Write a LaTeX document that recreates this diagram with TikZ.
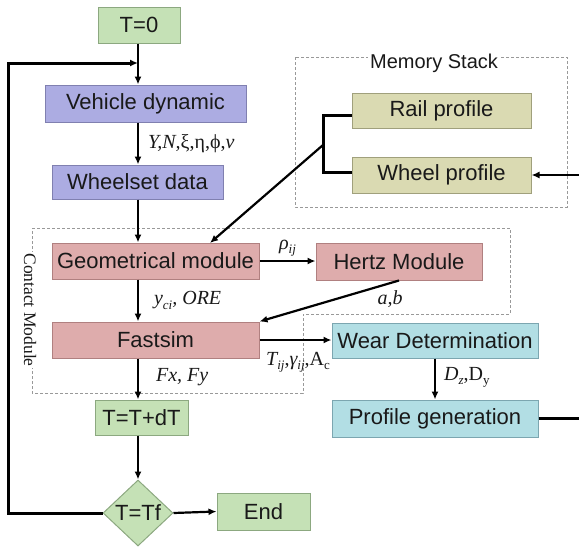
\documentclass[tikz,border=0pt]{standalone}
\usepackage{fontspec}
\setmainfont{Liberation Sans}
\newfontfamily\tms{Liberation Serif}
\usetikzlibrary{arrows.meta,shapes.geometric}

% small lowered index for the serif labels
\newcommand\lowtxt[1]{\raisebox{-0.45ex}{\fontsize{13}{13}\selectfont #1}}

\definecolor{gfill}{RGB}{197,225,182}
\definecolor{gline}{RGB}{140,168,128}
\definecolor{pfill}{RGB}{172,172,226}
\definecolor{pline}{RGB}{128,128,176}
\definecolor{ofill}{RGB}{218,218,178}
\definecolor{oline}{RGB}{160,160,124}
\definecolor{rfill}{RGB}{222,172,172}
\definecolor{rline}{RGB}{176,128,128}
\definecolor{cfill}{RGB}{178,222,228}
\definecolor{cline}{RGB}{124,166,176}
\definecolor{ink}{RGB}{25,25,25}

\begin{document}
\begin{tikzpicture}[x=1pt,y=-1pt,
  box/.style={draw, line width=1pt, rectangle, inner sep=0pt, text=ink,
              font=\fontsize{22}{24}\selectfont},
  greenbox/.style={box, fill=gfill, draw=gline},
  purplebox/.style={box, fill=pfill, draw=pline},
  olivebox/.style={box, fill=ofill, draw=oline},
  redbox/.style={box, fill=rfill, draw=rline},
  cyanbox/.style={box, fill=cfill, draw=cline},
  group/.style={draw=gray!80, line width=0.9pt, dash pattern=on 3pt off 2pt},
  arr/.style={line width=2.2pt, -{Latex[length=8pt,width=7pt]}},
  heavy/.style={line width=3pt},
  lbl/.style={inner sep=0pt, text=ink, font=\tms\fontsize{20}{22}\selectfont}
]
\useasboundingbox (0,0) rectangle (579,550);

% dashed groupings
\draw[group] (32,228) -- (510,228) -- (510,314) -- (303,314) -- (303,393) -- (32,393) -- cycle;
\draw[group] (295,57) rectangle (567,207);
\node[fill=white, inner sep=2pt, text=ink, font=\fontsize{20}{22}\selectfont] (mslabel) at (434,63) {Memory Stack};
\node[fill=white, inner sep=1pt, text=ink, font=\tms\fontsize{17.5}{19}\selectfont] (cmlabel) at (30,310) {\rotatebox{-90}{Contact Module}};

% spine of the main flow
\coordinate (spine) at (138,0);
\coordinate (loopin) at (138,63);
\coordinate (edge) at (590,300);

% blocks
\node[greenbox, minimum width=82pt, minimum height=36pt] (T0) at (139,25) {T=0};
\node[purplebox, minimum width=201pt, minimum height=37pt] (VD) at (145.5,103.5) {Vehicle dynamic};
\node[purplebox, minimum width=171pt, minimum height=34pt] (WS) at (137.5,182) {Wheelset data};
\node[redbox, minimum width=207pt, minimum height=36pt] (GM) at (155.5,261) {Geometrical module};
\node[redbox, minimum width=166pt, minimum height=37pt] (HM) at (399,261.5) {Hertz Module};
\node[redbox, minimum width=207pt, minimum height=36pt] (FS) at (155.5,340) {Fastsim};
\node[cyanbox, minimum width=206pt, minimum height=35pt] (WD) at (435,340.5) {Wear Determination};
\node[cyanbox, minimum width=206pt, minimum height=37pt] (PG) at (435,418.5) {Profile generation};
\node[greenbox, minimum width=93pt, minimum height=35pt] (TT) at (141.5,417.5) {T=T+dT};
\node[greenbox, shape=diamond, aspect=1.06, minimum width=70pt, minimum height=66pt] (TF) at (138,513) {\makebox[0pt]{T=Tf}};
\node[greenbox, minimum width=93pt, minimum height=37pt] (EN) at (263.5,511.5) {End};
\node[olivebox, minimum width=179pt, minimum height=35pt] (RP) at (441.5,110.5) {Rail profile};
\node[olivebox, minimum width=179pt, minimum height=36pt] (WP) at (441.5,175) {Wheel profile};

% main flow
\draw[arr] (T0.south -| spine) -- (VD.north -| spine);
\draw[arr] (VD.south -| spine) -- (WS.north -| spine)
  node[lbl, pos=0.5, right=9pt] (l1) {\itshape Y,N,\upshape ξ,η,ϕ,\itshape v};
\draw[arr] (WS.south -| spine) -- (GM.north -| spine);
\draw[arr] (GM.south -| spine) -- (FS.north -| spine)
  node[lbl, pos=0.5, right=15pt] (l2) {\itshape y\lowtxt{ci}, ORE};
\draw[arr] (FS.south -| spine) -- (TT.north -| spine)
  node[lbl, pos=0.45, right=17pt] (l3) {\itshape Fx, Fy};
\draw[arr] (TT.south -| spine) -- (TF.north);
\draw[arr] (TF.east) -- (EN.west);
\draw[arr, line width=3pt] (TF.west) -- (8,513) -- (8,63) -- (loopin);

% contact module internals
\draw[arr] (GM.east) -- (GM.east -| HM.west)
  node[lbl, pos=0.5, above=4pt] (l4) {\itshape ρ\lowtxt{ij}};
\draw[arr] (HM.south) -- (FS.north east);
\node[lbl] (l5) at (390,299) {\itshape a,b};

% wear loop
\draw[arr] (FS.east) -- (FS.east -| WD.west);
\node[lbl] (l6) at (298,362) {\itshape T\lowtxt{ij}\upshape,\itshape γ\lowtxt{ij}\upshape,A\lowtxt{c}};
\draw[arr] (WD.south) -- (PG.north)
  node[lbl, pos=0.45, right=8pt] (l7) {\itshape D\lowtxt{z}\upshape,D\lowtxt{y}};
\draw[line width=3.5pt] (PG.east) -| (edge);
\draw[arr] (edge) |- (WP.east);

% memory stack feed into the geometry
\draw[heavy] (RP.west |- 0,115) -- (323,115) -- (323,172) -- (WP.west |- 0,172);
\coordinate (fork) at (323,145);
\draw[arr] (fork) -- (210,243);
\end{tikzpicture}
\end{document}
